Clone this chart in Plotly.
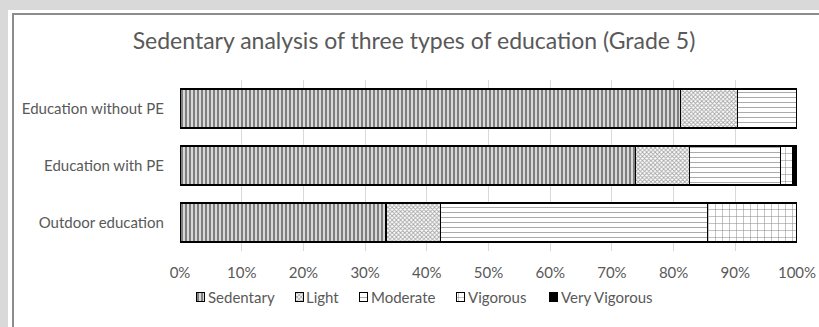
import plotly.graph_objects as go

categories = ["Education without PE", "Education with PE", "Outdoor education"]
sedentary = [81.1, 73.8, 33.4]
light = [9.3, 8.8, 8.8]
moderate = [9.6, 14.7, 43.3]
vigorous = [None, 2.0, 14.5]
very_vigorous = [None, 0.7, None]
series_names = ["Sedentary", "Light", "Moderate", "Vigorous", "Very Vigorous"]
tick_vals = [0, 10, 20, 30, 40, 50, 60, 70, 80, 90, 100]
tick_text = [f"{v}%" for v in tick_vals]
title_text = "Sedentary analysis of three types of education (Grade 5)"

W, H = 819, 327
PLOT_L, PLOT_R, PLOT_T, PLOT_B = 180, 797, 80, 251

def fx(px):
    return px / W

def fy(py):
    return 1 - py / H

FONT = "Lato"
GREY = "#595959"

patterns = [
    dict(shape="|", size=4, solidity=0.65, fgcolor="#000000", bgcolor="#ffffff"),
    dict(shape="x", size=3, solidity=0.5, fgcolor="#4a4a4a", bgcolor="#ffffff"),
    dict(shape="-", size=5, solidity=0.2, fgcolor="#555555", bgcolor="#ffffff"),
    dict(shape="+", size=7, solidity=0.14, fgcolor="#111111", bgcolor="#ffffff"),
    dict(shape="", fgcolor="#000000", bgcolor="#000000"),
]
fills = ["#ffffff", "#ffffff", "#ffffff", "#ffffff", "#000000"]
values = [sedentary, light, moderate, vigorous, very_vigorous]

fig = go.Figure()
for name, vals, pat, fill in zip(series_names, values, patterns, fills):
    fig.add_trace(go.Bar(
        name=name, y=categories, x=vals, orientation="h",
        marker=dict(color=fill, pattern=pat, line=dict(color="#000000", width=1.3)),
        width=0.68, showlegend=False, xaxis="x", yaxis="y",
    ))

# manual legend (icons as small bars on a pixel-scaled overlay axis)
legend_icon_left = [196, 295, 359, 456, 549]
legend_text_left = [206, 304, 369, 466, 559]
LEG_Y = 297
ICON = 8.5
for name, pat, fill, il in zip(series_names, patterns, fills, legend_icon_left):
    fig.add_trace(go.Bar(
        y=[LEG_Y], x=[ICON], base=[il], orientation="h", width=[ICON],
        marker=dict(color=fill, pattern=pat, line=dict(color="#000000", width=1)),
        showlegend=False, xaxis="x2", yaxis="y2", hoverinfo="skip",
    ))

annotations = [
    dict(text=name, x=fx(tl), y=fy(LEG_Y), xref="paper", yref="paper",
         xanchor="left", yanchor="middle", showarrow=False,
         font=dict(family=FONT, size=15, color=GREY))
    for name, tl in zip(series_names, legend_text_left)
]

fig.update_layout(
    width=W, height=H, autosize=False,
    margin=dict(l=0, r=0, t=0, b=0, pad=0, autoexpand=False),
    barmode="stack",
    paper_bgcolor="#ffffff",
    plot_bgcolor="rgba(0,0,0,0)",
    font=dict(family=FONT, color=GREY, size=15),
    title=dict(text=title_text, x=fx(414), xref="paper", xanchor="center",
               y=fy(41), yref="paper", yanchor="middle",
               font=dict(family=FONT, size=23, color=GREY)),
    xaxis=dict(domain=[fx(PLOT_L), fx(PLOT_R)], anchor="y",
               range=[0, 100], tickvals=tick_vals, ticktext=tick_text, automargin=False,
               showgrid=True, gridcolor="#d9d9d9", gridwidth=1, zeroline=False,
               showline=False, ticks="", ticklabelstandoff=11,
               tickfont=dict(family=FONT, size=15, color=GREY), fixedrange=True),
    yaxis=dict(domain=[fy(PLOT_B), fy(PLOT_T)], anchor="x",
               autorange="reversed", showgrid=False, zeroline=False, showline=False,
               ticks="", ticklabelstandoff=15, automargin=False,
               tickfont=dict(family=FONT, size=15, color=GREY)),
    xaxis2=dict(domain=[0, 1], anchor="y2", range=[0, W], visible=False,
                showgrid=False, zeroline=False, fixedrange=True),
    yaxis2=dict(domain=[0, 1], anchor="x2", range=[H, 0], visible=False,
                showgrid=False, zeroline=False, fixedrange=True),
    showlegend=False,
    annotations=annotations,
    shapes=[
        dict(type="rect", xref="paper", yref="paper", layer="below",
             x0=0, x1=fx(8), y0=0, y1=1,
             fillcolor="#d9d9d9", line=dict(width=0)),
        dict(type="rect", xref="paper", yref="paper", layer="below",
             x0=0, x1=1, y0=fy(10), y1=1,
             fillcolor="#d9d9d9", line=dict(width=0)),
        dict(type="line", xref="paper", yref="paper", layer="below",
             x0=fx(13), x1=fx(13), y0=fy(13), y1=0,
             line=dict(color="#8c8c8c", width=2)),
        dict(type="line", xref="paper", yref="paper", layer="below",
             x0=fx(12), x1=1, y0=fy(14), y1=fy(14),
             line=dict(color="#8c8c8c", width=2)),
    ],
)

fig.write_html("out.html")
